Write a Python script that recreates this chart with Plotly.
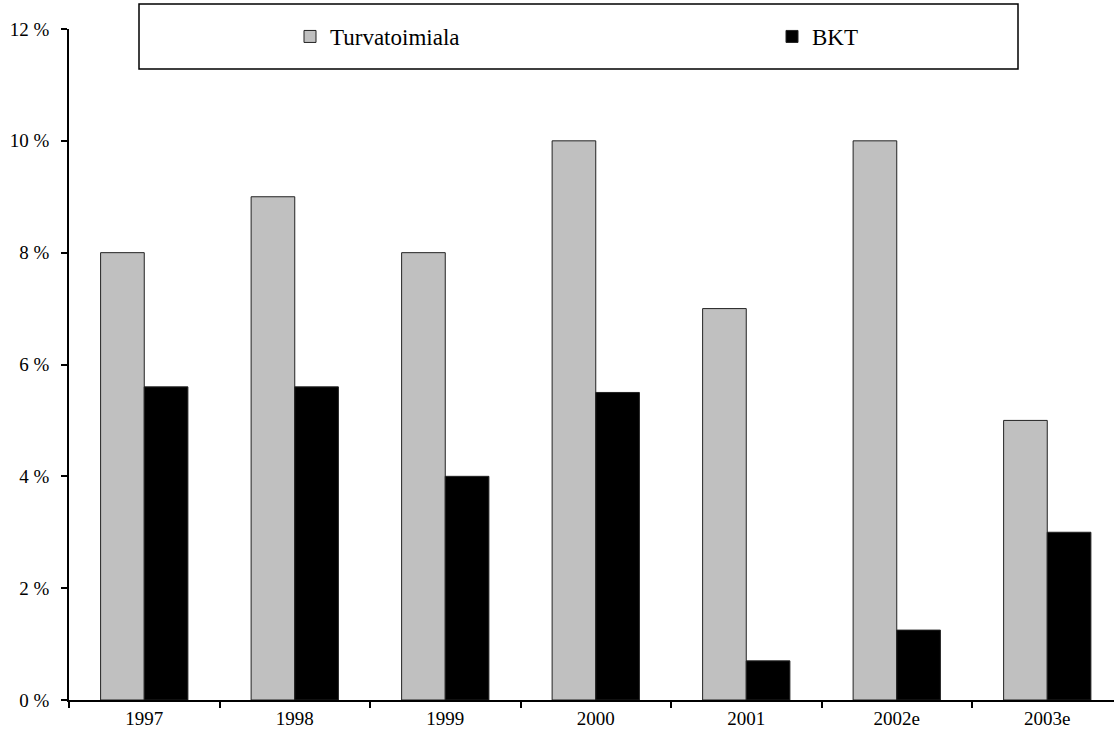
import plotly.graph_objects as go

years = ["1997", "1998", "1999", "2000", "2001", "2002e", "2003e"]
turva = [8, 9, 8, 10, 7, 10, 5]
bkt = [5.6, 5.6, 4.0, 5.5, 0.7, 1.25, 3.0]
y_ticks = [0, 2, 4, 6, 8, 10, 12]
y_labels = [f"{v} %" for v in y_ticks]

W, H = 1114, 744
L, R, T, B = 69, 0, 29, 44
pw = W - L - R
ph = H - T - B

def px_x(p):  # screen px -> paper x
    return (p - L) / pw

def px_y(p):  # screen px -> paper y
    return (T + ph - p) / ph

font = "Times New Roman, Liberation Serif, serif"

fig = go.Figure()
fig.add_trace(go.Bar(x=years, y=turva, name="Turvatoimiala", legend="legend",
                     marker=dict(color="#C0C0C0", line=dict(color="#222222", width=1))))
fig.add_trace(go.Bar(x=years, y=bkt, name="BKT", legend="legend2",
                     marker=dict(color="#000000", line=dict(color="#222222", width=1))))

leg_common = dict(orientation="h", xanchor="left", yanchor="top",
                  bgcolor="rgba(0,0,0,0)", borderwidth=0,
                  font=dict(family=font, size=23, color="black"))

fig.update_layout(
    width=W, height=H,
    margin=dict(l=L, r=R, t=T, b=B, pad=0),
    paper_bgcolor="white", plot_bgcolor="white",
    barmode="group", bargap=0.42, bargroupgap=0,
    font=dict(family=font, size=19, color="black"),
    showlegend=True,
    legend=dict(x=px_x(290), y=px_y(15), **leg_common),
    legend2=dict(x=px_x(772), y=px_y(15), **leg_common),
    shapes=[dict(type="rect", xref="paper", yref="paper",
                 x0=px_x(139), x1=px_x(1018), y0=px_y(69), y1=px_y(4),
                 line=dict(color="black", width=1.5), fillcolor="white", layer="below")],
)
fig.update_xaxes(
    range=[-0.5, -0.5 + pw / 150.5], showgrid=False, zeroline=False,
    showline=True, linecolor="black", linewidth=1.5,
    ticks="outside", tickson="boundaries", ticklen=6, tickcolor="black", tickwidth=1.5,
    tickfont=dict(family=font, size=19, color="black"),
)
fig.update_yaxes(
    range=[0, 12], tickmode="array", tickvals=y_ticks, ticktext=y_labels,
    showgrid=False, zeroline=False,
    showline=True, linecolor="black", linewidth=1.5,
    ticks="outside", ticklen=6, tickcolor="black", tickwidth=1.5,
    ticklabelstandoff=8,
    tickfont=dict(family=font, size=19, color="black"),
)

fig.write_html("out.html", config={"displayModeBar": False},
               post_script="document.body.style.margin='0';document.body.style.padding='0';")
